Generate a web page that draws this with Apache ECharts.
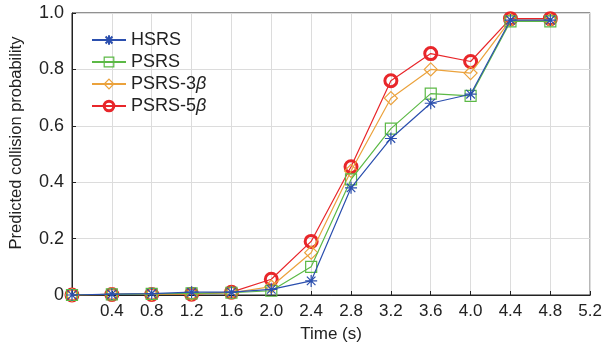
<!DOCTYPE html>
<html>
<head>
<meta charset="utf-8">
<script src="https://cdn.jsdelivr.net/npm/echarts@6/dist/echarts.min.js"></script>
<style>
  html, body { margin: 0; padding: 0; background: #fff; }
  #chart { width: 605px; height: 350px; }
</style>
</head>
<body>
<div id="chart"></div>
<script>
// 数据
const times = [0, 0.4, 0.8, 1.2, 1.6, 2.0, 2.4, 2.8, 3.2, 3.6, 4.0, 4.4, 4.8];
const hsrs = [0, 0.003, 0.005, 0.01, 0.01, 0.02, 0.05, 0.38, 0.555, 0.68, 0.712, 0.975, 0.975];
const psrs = [0, 0.002, 0.004, 0.006, 0.008, 0.015, 0.10, 0.41, 0.59, 0.714, 0.706, 0.97, 0.97];
const psrs3 = [0, 0.002, 0.003, 0.004, 0.008, 0.03, 0.15, 0.44, 0.698, 0.80, 0.787, 0.975, 0.975];
const psrs5 = [0, 0.002, 0.002, 0.003, 0.01, 0.056, 0.19, 0.455, 0.76, 0.856, 0.828, 0.98, 0.98];
const names = ['HSRS', 'PSRS', 'PSRS-3β', 'PSRS-5β'];

const font = 'Liberation Sans, Arial, sans-serif';
// 星号标记
const asterisk = 'path://M0,-6L0,6M-6,0L6,0M-4.3,-4.3L4.3,4.3M-4.3,4.3L4.3,-4.3';
const hollow = 'rgba(255,255,255,0)';

function pairs(arr) {
  return arr.map((v, i) => [times[i], v]);
}

const chart = echarts.init(document.getElementById('chart'));

let option = {
  animation: false,
  textStyle: { fontFamily: font },
  grid: {
    left: 71, right: 11, top: 13, bottom: 55,
    show: true, borderColor: '#222', borderWidth: 1
  },
  legend: {
    orient: 'vertical',
    left: 91, top: 31, padding: 0,
    itemWidth: 34, itemHeight: 12, itemGap: 4,
    formatter: name => name.replace('β', '{i|β}'),
    textStyle: {
      fontSize: 18, color: '#222', fontFamily: font,
      rich: { i: { fontSize: 18, fontStyle: 'italic', color: '#222', fontFamily: font } }
    },
    data: [
      { name: names[0] },
      { name: names[1], itemStyle: { color: hollow, borderColor: '#5cb946', borderWidth: 1.2 } },
      { name: names[2], itemStyle: { color: hollow, borderColor: '#eba23c', borderWidth: 1.2 } },
      { name: names[3], itemStyle: { color: hollow, borderColor: '#e8262a', borderWidth: 3 } }
    ]
  },
  xAxis: {
    type: 'value',
    min: 0, max: 5.2, interval: 0.4,
    name: 'Time (s)',
    nameLocation: 'middle',
    nameGap: 31,
    nameTextStyle: { fontSize: 17, color: '#222' },
    axisLine: { lineStyle: { color: '#222' } },
    axisTick: { inside: true, length: 4, lineStyle: { color: '#222' } },
    axisLabel: {
      fontSize: 17, color: '#222', margin: 8,
      formatter: v => (v === 0 ? '' : v.toFixed(1))
    },
    splitLine: { show: true, lineStyle: { color: '#dcdcdc' } }
  },
  yAxis: {
    type: 'value',
    min: 0, max: 1, interval: 0.2,
    name: 'Predicted collision probability',
    nameLocation: 'middle',
    nameGap: 47,
    nameTextStyle: { fontSize: 16.5, color: '#222', padding: [0, 0, 0, 22] },
    axisLine: { show: true, lineStyle: { color: '#222' } },
    axisTick: { show: true, inside: true, length: 4, lineStyle: { color: '#222' } },
    axisLabel: {
      fontSize: 18, color: '#222', margin: 8,
      formatter: v => (v === 0 ? '0' : v.toFixed(1))
    },
    splitLine: { show: true, lineStyle: { color: '#dcdcdc' } }
  },
  series: [
    {
      name: names[0], type: 'line', data: pairs(hsrs),
      symbol: asterisk, symbolSize: 12, z: 4,
      lineStyle: { color: '#2b4fae', width: 1.2 },
      itemStyle: { color: '#2b4fae', borderColor: '#2b4fae', borderWidth: 1.2 }
    },
    {
      name: names[1], type: 'line', data: pairs(psrs),
      symbol: 'rect', symbolSize: 11, z: 3,
      lineStyle: { color: '#5cb946', width: 1.2 },
      itemStyle: { color: hollow, borderColor: '#5cb946', borderWidth: 1.2 }
    },
    {
      name: names[2], type: 'line', data: pairs(psrs3),
      symbol: 'diamond', symbolSize: 13, z: 2,
      lineStyle: { color: '#eba23c', width: 1.2 },
      itemStyle: { color: hollow, borderColor: '#eba23c', borderWidth: 1.2 }
    },
    {
      name: names[3], type: 'line', data: pairs(psrs5),
      symbol: 'circle', symbolSize: 12, z: 1,
      lineStyle: { color: '#e8262a', width: 1.2 },
      itemStyle: { color: hollow, borderColor: '#e8262a', borderWidth: 3 }
    }
  ]
};
chart.setOption(option);
</script>
</body>
</html>
